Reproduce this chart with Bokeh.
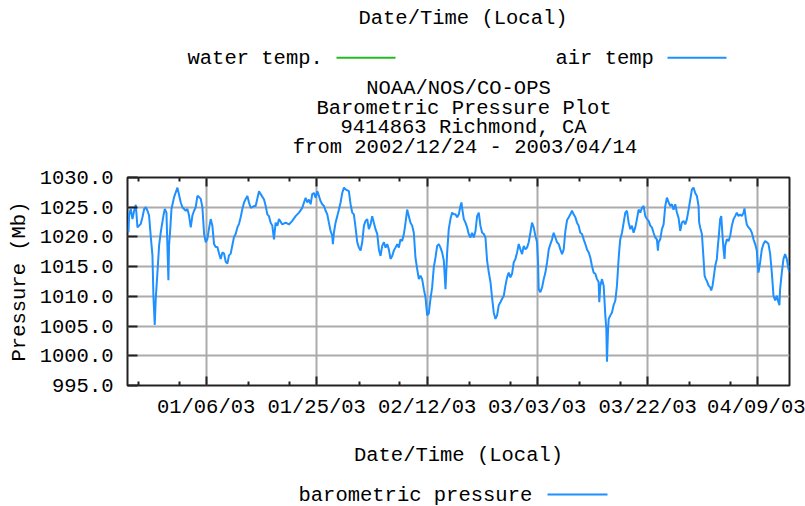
from datetime import datetime, timedelta
from bokeh.plotting import figure
from bokeh.layouts import column
from bokeh.models import (Range1d, FixedTicker, DatetimeAxis, PrintfTickFormatter,
                          CustomJSTickFormatter, ColumnDataSource)
from bokeh.core.properties import value
from bokeh.embed import file_html
from bokeh.resources import INLINE

# ---------------- data ----------------
START = datetime(2002, 12, 24)
END = datetime(2003, 4, 15)

# days since 2002-12-24 00:00 (local)
days = [
    0.16, 0.27, 0.55, 0.84, 1.12, 1.40, 1.69, 1.97, 2.25, 2.53, 2.82, 3.10, 3.38, 3.65, 3.94,
    4.22, 4.39, 4.61, 4.78, 5.07, 5.35, 5.63, 6.08, 6.31, 6.59, 6.92, 7.03, 7.20, 7.44, 7.88,
    8.45, 9.01, 9.29, 9.86, 10.14, 10.41, 10.70, 10.98, 11.26, 11.54, 11.83, 12.11, 12.39, 12.67,
    12.96, 13.24, 13.52, 13.79, 14.08, 14.36, 14.64, 14.92, 15.21, 15.49, 15.77, 16.05, 16.34,
    16.62, 16.90, 17.17, 17.46, 17.74, 18.02, 18.30, 18.59, 18.87, 19.15, 19.43, 19.72, 20.00,
    20.28, 20.55, 20.84, 21.40, 21.68, 22.25, 22.53, 23.10, 23.38, 23.66, 23.93, 24.22, 24.50,
    24.78, 25.06, 25.35, 25.63, 26.19, 26.76, 27.31, 27.88, 28.44, 29.01, 29.57, 29.86, 30.14,
    30.42, 30.69, 30.98, 31.26, 31.54, 31.82, 32.11, 32.39, 32.67, 32.95, 33.24, 33.52, 33.80,
    34.07, 34.36, 34.64, 34.75, 34.92, 35.20, 35.49, 35.77, 36.05, 36.33, 36.62, 36.90, 37.45,
    37.74, 38.02, 38.30, 38.58, 38.87, 39.15, 39.43, 39.71, 40.00, 40.28, 40.56, 40.83, 41.12,
    41.40, 41.68, 41.96, 42.25, 42.53, 42.81, 43.09, 43.38, 43.66, 43.94, 44.21, 44.50, 44.78,
    45.06, 45.34, 45.63, 45.91, 46.19, 46.47, 46.76, 47.04, 47.32, 47.59, 47.88, 48.16, 48.44,
    48.72, 49.01, 49.29, 49.57, 49.85, 50.14, 50.42, 50.70, 50.97, 51.26, 51.54, 51.82, 52.10,
    52.39, 52.67, 52.95, 53.23, 53.52, 53.80, 54.08, 54.35, 54.64, 54.92, 55.20, 55.48, 55.77,
    56.05, 56.33, 56.50, 56.61, 56.90, 57.18, 57.46, 57.73, 58.02, 58.30, 58.58, 58.87, 59.15,
    59.43, 59.71, 60.00, 60.28, 60.56, 60.84, 61.13, 61.41, 61.68, 61.96, 62.25, 62.53, 62.81,
    63.09, 63.38, 63.66, 63.94, 64.22, 64.50, 64.78, 65.06, 65.34, 65.63, 65.91, 66.19, 66.47,
    66.76, 67.04, 67.32, 67.60, 67.88, 68.16, 68.44, 68.72, 69.01, 69.29, 69.46, 69.57, 69.85,
    70.14, 70.42, 70.70, 70.98, 71.27, 71.55, 71.83, 72.10, 72.39, 72.67, 72.95, 73.23, 73.52,
    73.80, 74.08, 74.36, 74.65, 74.93, 75.20, 75.48, 75.77, 76.05, 76.33, 76.61, 76.90, 77.18,
    77.46, 77.74, 78.03, 78.31, 78.58, 78.86, 79.15, 79.43, 79.71, 79.82, 79.99, 80.28, 80.56,
    80.84, 81.01, 81.12, 81.29, 81.41, 81.69, 81.97, 82.24, 82.53, 82.81, 82.98, 83.09, 83.26,
    83.37, 83.66, 83.94, 84.22, 84.50, 84.79, 85.07, 85.34, 85.62, 85.91, 86.19, 86.47, 86.75,
    87.04, 87.32, 87.60, 87.88, 88.17, 88.45, 88.72, 89.00, 89.29, 89.57, 89.74, 89.85, 90.13,
    90.42, 90.70, 90.98, 91.26, 91.55, 91.83, 92.10, 92.38, 92.67, 92.95, 93.23, 93.51, 93.80,
    94.08, 94.36, 94.64, 94.93, 95.21, 95.49, 95.76, 96.05, 96.33, 96.61, 96.72, 96.89, 97.18,
    97.46, 97.63, 97.85, 98.02, 98.31, 98.59, 98.75, 98.98, 99.14, 99.43, 99.71, 99.88, 99.99,
    100.27, 100.45, 100.56, 100.67, 100.84, 101.01, 101.12, 101.40, 101.69, 101.97, 102.25,
    102.54, 102.81, 103.09, 103.37, 103.65, 103.94, 104.22, 104.39, 104.61, 104.78, 105.07,
    105.35, 105.63, 105.91, 106.19, 106.47, 106.64, 106.75, 107.03, 107.32, 107.60, 107.88,
    108.16, 108.45, 108.73, 109.01, 109.17, 109.29, 109.57, 109.85, 110.13, 110.30, 110.41,
    110.70, 110.98, 111.26, 111.54, 111.83, 111.99,
]

# barometric pressure (Mb)
pressure = [
    1020.8, 1023.6, 1024.7, 1023.0, 1024.4, 1025.4, 1021.6, 1021.9, 1022.2, 1023.3, 1024.7, 1025.0, 1024.4, 1023.6, 1020.0,
    1016.9, 1009.9, 1005.2, 1009.6, 1014.1, 1018.6, 1020.8, 1023.6, 1024.7, 1024.1, 1012.7, 1018.6, 1020.8, 1024.7, 1026.7,
    1028.3, 1025.8, 1025.0, 1024.4, 1024.7, 1023.6, 1021.6, 1023.6, 1024.4, 1025.0, 1026.9, 1026.7, 1026.4, 1025.0,
    1020.5, 1019.1, 1019.7, 1021.4, 1023.0, 1021.9, 1018.8, 1018.3, 1018.3, 1017.2, 1016.3, 1017.4, 1017.2,
    1015.8, 1015.5, 1016.9, 1017.2, 1018.6, 1020.0, 1020.5, 1021.6, 1022.2, 1023.3, 1024.7, 1025.8, 1026.4,
    1026.9, 1025.8, 1024.9, 1025.2, 1025.2, 1027.7, 1027.2, 1026.3, 1025.2, 1023.8, 1023.5, 1022.4, 1021.9,
    1019.6, 1022.4, 1021.9, 1023.0, 1022.1, 1022.4, 1022.1, 1022.7, 1023.5, 1024.1, 1024.9, 1025.8, 1026.6,
    1025.8, 1026.3, 1025.5, 1027.2, 1027.4, 1026.6, 1027.7, 1026.9, 1026.0, 1025.5, 1025.2, 1024.4, 1023.8,
    1022.4, 1021.0, 1020.2, 1018.8, 1020.7, 1022.4, 1023.5, 1024.6, 1025.8, 1027.4, 1028.3, 1028.0, 1027.7,
    1025.5, 1024.1, 1023.8, 1021.6, 1019.1, 1018.2, 1017.7, 1019.1, 1021.9, 1022.7, 1023.0, 1021.3, 1022.1,
    1023.5, 1022.4, 1021.3, 1020.5, 1017.9, 1016.8, 1018.5, 1019.1, 1018.2, 1018.8, 1017.9, 1016.3, 1016.8,
    1017.7, 1018.2, 1018.8, 1018.2, 1019.6, 1019.3, 1020.5, 1022.4, 1024.6, 1023.5, 1022.4, 1021.9, 1020.7,
    1016.5, 1014.6, 1012.9, 1013.5, 1012.9, 1011.2, 1009.8, 1006.8, 1007.1, 1009.6, 1011.5, 1014.9, 1016.5,
    1018.5, 1018.8, 1018.2, 1017.4, 1016.0, 1011.2, 1017.4, 1021.3, 1023.0, 1024.1, 1023.8, 1023.8, 1023.3,
    1023.8, 1025.2, 1025.8, 1024.9, 1023.0, 1022.4, 1021.6, 1020.5, 1019.9, 1020.7, 1019.9, 1021.0, 1023.5,
    1024.1, 1021.9, 1020.7, 1020.5, 1019.9, 1016.0, 1014.0, 1012.4, 1009.8, 1007.3, 1006.2, 1006.8, 1008.5,
    1009.0, 1009.6, 1010.1, 1011.8, 1013.2, 1014.0, 1013.2, 1013.8, 1015.7, 1016.3, 1017.4, 1018.8, 1017.9,
    1017.1, 1018.5, 1017.9, 1018.2, 1019.1, 1020.7, 1022.4, 1021.6, 1020.2, 1019.1, 1015.7, 1011.2, 1010.7,
    1011.5, 1012.9, 1014.0, 1015.7, 1017.9, 1018.8, 1019.6, 1020.7, 1019.9, 1019.1, 1018.8, 1017.9, 1017.1,
    1017.9, 1021.0, 1022.8, 1023.3, 1023.8, 1024.4, 1023.8, 1023.3, 1022.4, 1021.9, 1020.7, 1020.5, 1019.6,
    1018.8, 1017.9, 1017.4, 1016.5, 1015.1, 1014.0, 1013.8, 1012.9, 1012.4, 1009.0, 1011.8, 1012.9, 1011.8,
    1006.8, 1004.5, 999.0, 1004.0, 1006.2, 1006.8, 1007.3, 1008.5, 1009.3, 1011.8, 1014.6, 1016.3, 1018.5,
    1019.6, 1020.7, 1022.4, 1024.1, 1024.4, 1022.4, 1021.3, 1021.9, 1020.7, 1021.6, 1023.0, 1024.6, 1024.1,
    1024.9, 1025.2, 1023.5, 1023.0, 1022.7, 1021.9, 1021.6, 1020.7, 1019.9, 1019.6, 1017.7, 1019.1, 1019.6,
    1021.3, 1022.1, 1025.2, 1026.6, 1025.8, 1025.2, 1025.5, 1024.6, 1025.5, 1024.1, 1023.2, 1021.0, 1022.4,
    1022.7, 1022.1, 1023.0, 1024.6, 1026.3, 1028.0, 1028.3, 1027.4, 1026.9, 1025.2, 1022.4, 1021.6, 1020.5,
    1016.3, 1013.5, 1012.9, 1012.6, 1011.8, 1011.5, 1011.0, 1011.8, 1012.9, 1015.1, 1016.3, 1018.5, 1019.6,
    1023.0, 1023.5, 1021.9, 1020.2, 1017.9, 1016.3, 1018.5, 1019.6, 1019.3, 1020.2, 1021.9,
    1023.0, 1023.5, 1024.1, 1023.5, 1023.8, 1023.5, 1024.1, 1024.8, 1023.0, 1022.1, 1021.6,
    1021.3, 1020.7, 1019.6, 1018.8, 1017.7, 1015.1, 1014.0, 1015.7, 1017.9, 1018.8, 1019.3,
    1019.1, 1018.8, 1017.1, 1014.0, 1011.8, 1010.1, 1009.3, 1010.1, 1009.0, 1008.5, 1011.2,
    1014.0, 1016.3, 1017.1, 1016.3, 1014.6, 1014.0,
]

# axis ticks
x_tick_days = [13.3, 32.0, 50.7, 69.3, 88.0, 106.55]
x_tick_labels = ["01/06/03", "01/25/03", "02/12/03", "03/03/03", "03/22/03", "04/09/03"]
x_minor_days = [1.86, 8.72, 20.54, 27.41, 39.24, 46.05, 57.82, 64.74, 76.45, 83.44, 95.10, 102.03]
y_ticks = [995.0, 1000.0, 1005.0, 1010.0, 1015.0, 1020.0, 1025.0, 1030.0]

# header / footer texts
title_lines = ["NOAA/NOS/CO-OPS", "Barometric Pressure Plot",
               "9414863 Richmond, CA", "from 2002/12/24 - 2003/04/14"]
x_axis_title = "Date/Time (Local)"
y_axis_title = "Pressure (Mb)"
legend_top = ["water temp.", "air temp"]
legend_bottom = "barometric pressure"

# ---------------- styling / layout ----------------
EPOCH = datetime(1970, 1, 1)


def to_ms(d):
    return (START + timedelta(days=d) - EPOCH).total_seconds() * 1000.0


FONT = "Liberation Mono"
FS = "20.5px"
BLUE = "#1E90FF"
GREEN = "#22BB22"
GRID = "#ababab"
DARK = "#222222"
W = 805
FRAME_L = 127      # plot frame left edge (page px)
FRAME_R = 789      # plot frame right edge (page px)
TXT_DY = -6        # glyph-text baseline correction


def text_panel(height, y_top):
    # frame of this panel is aligned with the main plot frame by the column layout
    f = figure(width=W, height=height, x_range=Range1d(FRAME_L, FRAME_R),
               y_range=Range1d(y_top + height, y_top),
               output_backend="svg", toolbar_location=None,
               x_axis_location=None, y_axis_location=None,
               min_border_left=FRAME_L, min_border_right=W - FRAME_R,
               min_border_top=0, min_border_bottom=0)
    f.outline_line_color = None
    f.grid.visible = False
    f.background_fill_color = "white"
    f.border_fill_color = "white"
    return f


def put(f, texts, xs, ys, align):
    f.text(x=xs, y=[y + TXT_DY for y in ys], text=texts, text_align=align,
           text_baseline="alphabetic",
           text_font=value(FONT), text_font_size=value(FS), text_color="black")


# ---------------- header ----------------
TOP_H = 168
head = text_panel(TOP_H, 0)
put(head, [x_axis_title], [462.5], [24], "center")
put(head, legend_top, [187, 555], [63.5, 63.5], "left")
head.segment(x0=[336], y0=[57.3], x1=[395], y1=[57.3], line_color=GREEN, line_width=2)
head.segment(x0=[667], y0=[57.3], x1=[726], y1=[57.3], line_color=BLUE, line_width=2)
put(head, title_lines, [458, 463.5, 463, 464.5], [93.5, 114, 133, 152.5], "center")

# ---------------- main plot ----------------
MAIN_H = 305
src = ColumnDataSource(data=dict(t=[START + timedelta(days=d) for d in days], p=pressure))

p = figure(width=W, height=MAIN_H, x_axis_type="datetime",
           x_range=Range1d(START, END), y_range=Range1d(995, 1030),
           output_backend="svg", toolbar_location=None,
           min_border_left=FRAME_L, min_border_right=W - FRAME_R, min_border_top=9,
           min_border_bottom=MAIN_H - 9 - 208)
p.background_fill_color = "white"
p.border_fill_color = "white"
p.outline_line_color = DARK
p.outline_line_width = 2

xt = FixedTicker(ticks=[to_ms(d) for d in x_tick_days], minor_ticks=[to_ms(d) for d in x_minor_days])
yt = FixedTicker(ticks=y_ticks, minor_ticks=[])

xa = p.xaxis[0]
xa.ticker = xt
xa.formatter = CustomJSTickFormatter(args=dict(labels=x_tick_labels),
                                     code="return labels[index] !== undefined ? labels[index] : '';")
ya = p.yaxis[0]
ya.ticker = yt
ya.formatter = PrintfTickFormatter(format="%.1f")

for ax in (xa, ya):
    ax.axis_line_color = None
    ax.major_tick_out = 0
    ax.minor_tick_out = 0
    ax.major_tick_line_color = DARK
    ax.major_tick_line_width = 2
    ax.minor_tick_line_color = DARK
    ax.minor_tick_line_width = 2
    ax.major_label_text_font = FONT
    ax.major_label_text_font_size = FS
    ax.major_label_text_color = "black"
    ax.axis_label_text_font = FONT
    ax.axis_label_text_font_size = FS
    ax.axis_label_text_font_style = "normal"
    ax.axis_label_text_color = "black"

xa.major_tick_in = 9
xa.minor_tick_in = 4
xa.major_label_standoff = 10
xa.axis_label = x_axis_title
xa.axis_label_standoff = 22
ya.major_tick_in = 10
ya.minor_tick_in = 0
ya.major_label_standoff = 14
ya.axis_label = y_axis_title
ya.axis_label_standoff = 6

top_axis = DatetimeAxis(ticker=xt, formatter=CustomJSTickFormatter(code="return '';"),
                        axis_line_color=None, major_tick_in=9, major_tick_out=0,
                        minor_tick_in=4, minor_tick_out=0,
                        major_tick_line_color=DARK, major_tick_line_width=2,
                        minor_tick_line_color=DARK, minor_tick_line_width=2,
                        major_label_standoff=0, major_label_text_font_size="0px")
p.add_layout(top_axis, "above")

p.xgrid.ticker = xt
p.ygrid.ticker = yt
for g in (p.xgrid, p.ygrid):
    g.grid_line_color = GRID
    g.grid_line_width = 2

p.line(x="t", y="p", source=src, line_color=BLUE, line_width=2)

# ---------------- footer ----------------
FOOT_Y = TOP_H + MAIN_H
foot = text_panel(506 - FOOT_Y, FOOT_Y)
put(foot, [legend_bottom], [298], [501], "left")
foot.segment(x0=[547], y0=[494], x1=[607], y1=[494], line_color=BLUE, line_width=2)

layout = column(head, p, foot, spacing=0)
open("out.html", "w").write(file_html(layout, INLINE))
